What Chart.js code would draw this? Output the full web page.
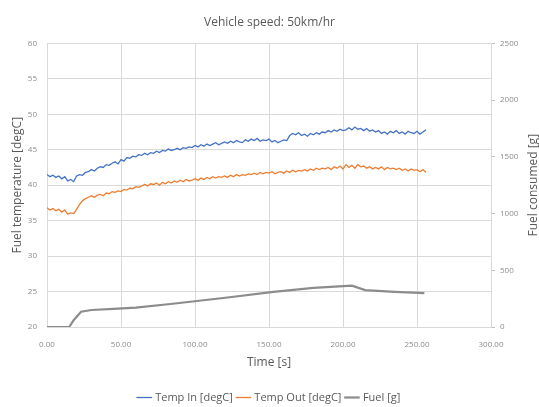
<!DOCTYPE html>
<html>
<head>
<meta charset="utf-8">
<script src="https://cdn.jsdelivr.net/npm/chart.js@4.4.0/dist/chart.umd.min.js"></script>
<style>
  html, body { margin: 0; padding: 0; background: #fff; }
  #wrap { width: 539px; height: 407px; }
</style>
</head>
<body>
<div id="wrap"><canvas id="myLineChart" width="539" height="407"></canvas></div>
<script>
// sampling every 2 s, from 0 to 256 s
const sampleStep = 2;

const tempIn = [
  41.5, 41.2, 41.4, 41.1, 41.3, 40.9, 41.2, 40.6, 40.8, 40.5,
  41.3, 41.5, 41.4, 41.8, 41.9, 42.2, 42.0, 42.4, 42.6, 42.5,
  42.9, 42.8, 43.1, 43.3, 43.0, 43.6, 43.4, 43.9, 43.8, 44.1,
  44.0, 44.3, 44.2, 44.5, 44.3, 44.6, 44.5, 44.8, 44.6, 44.9,
  44.8, 45.1, 44.9, 45.0, 45.2, 45.0, 45.3, 45.2, 45.4, 45.3,
  45.6, 45.4, 45.7, 45.5, 45.8, 45.6, 45.8, 46.0, 45.7, 45.9,
  46.1, 45.9, 46.2, 46.0, 46.3, 46.1, 46.0, 46.4, 46.2, 46.5,
  46.3, 46.6, 46.2, 46.4, 46.3, 46.5, 46.1, 46.3, 46.0, 46.2,
  46.4, 46.3, 47.0, 47.3, 47.1, 47.4, 47.0, 47.2, 46.9, 47.3,
  47.1, 47.4, 47.2, 47.5, 47.4, 47.7, 47.5, 47.8, 47.6, 47.9,
  47.7, 47.8, 48.1, 47.8, 48.2, 47.9, 48.0, 47.7, 48.0, 47.6,
  47.8, 47.5, 47.7, 47.3, 47.5, 47.2, 47.6, 47.4, 47.7, 47.3,
  47.5, 47.2, 47.6, 47.4, 47.3, 47.6, 47.2, 47.5, 47.8
];

const tempOut = [
  36.8, 36.5, 36.7, 36.4, 36.6, 36.2, 36.5, 35.9, 36.1, 36.0,
  36.6, 37.3, 37.8, 38.1, 38.3, 38.5, 38.3, 38.6, 38.7, 38.5,
  38.9, 38.8, 39.1, 39.0, 39.2, 39.1, 39.4, 39.3, 39.6, 39.5,
  39.8, 39.7, 39.9, 40.1, 39.9, 40.2, 40.1, 40.3, 40.0, 40.4,
  40.2, 40.5, 40.3, 40.6, 40.4, 40.7, 40.5, 40.8, 40.6, 40.7,
  40.9, 40.7, 41.0, 40.8, 41.1, 40.9, 41.2, 41.0, 41.2, 41.1,
  41.3, 41.1, 41.4, 41.2, 41.5, 41.3, 41.5, 41.4, 41.6, 41.5,
  41.7, 41.5, 41.8, 41.6, 41.8, 41.7, 41.9, 41.6, 41.8, 41.9,
  41.7, 42.0, 41.8, 42.1, 41.9, 42.1, 42.0, 42.2, 42.0, 42.3,
  42.1, 42.4, 42.2, 42.4, 42.3, 42.5, 42.2, 42.6, 42.4, 42.7,
  42.3, 42.9, 42.5, 42.8, 42.4, 42.9, 42.6, 42.7, 42.4, 42.6,
  42.3, 42.5, 42.3, 42.6, 42.2, 42.5, 42.3, 42.4, 42.2, 42.4,
  42.1, 42.3, 42.0, 42.3, 42.1, 42.2, 41.9, 42.2, 41.8
];

// fuel is a smooth curve, read at a few breakpoints
const fuelTime = [0, 15, 18, 23, 30, 45, 60, 85, 122, 153, 180, 206, 215, 235, 255];
const fuelGrams = [0, 0, 60, 135, 150, 160, 170, 205, 260, 310, 345, 365, 325, 310, 298];

const xTicks = [0, 50, 100, 150, 200, 250, 300];

const textGrey = '#595959';
const tickGrey = '#8c8c8c';
const gridGrey = '#d9d9d9';
const fontName = 'Open Sans';

function toPoints(values) {
    return values.map((v, i) => ({ x: i * sampleStep, y: v }));
}

// right axis title reads bottom-to-top like the left one
const rightTitle = {
    id: 'rightTitle',
    afterDraw(chart) {
        const c = chart.ctx;
        const area = chart.chartArea;
        c.save();
        c.translate(534, (area.top + area.bottom) / 2);
        c.rotate(-Math.PI / 2);
        c.fillStyle = textGrey;
        c.font = '12px "' + fontName + '"';
        c.textAlign = 'center';
        c.textBaseline = 'middle';
        c.fillText('Fuel consumed [g]', 0, 0);
        c.restore();
    }
};

const ctx = document.getElementById('myLineChart').getContext('2d');

const chart = new Chart(ctx, {
    type: 'line',
    data: {
        datasets: [{
            label: 'Temp In [degC]',
            data: toPoints(tempIn),
            borderColor: '#4472C4',
            borderWidth: 1.3,
            yAxisID: 'y',
            fill: false
        }, {
            label: 'Temp Out [degC]',
            data: toPoints(tempOut),
            borderColor: '#ED7D31',
            borderWidth: 1.3,
            yAxisID: 'y',
            fill: false
        }, {
            label: 'Fuel [g]',
            data: fuelTime.map((t, i) => ({ x: t, y: fuelGrams[i] })),
            borderColor: '#8c8c8c',
            borderWidth: 2.2,
            yAxisID: 'y1',
            fill: false
        }]
    },
    plugins: [rightTitle],
    options: {
        responsive: false,
        animation: false,
        elements: { point: { radius: 0 }, line: { tension: 0 } },
        layout: { padding: { left: 0, right: 0, top: 4, bottom: -6 } },
        plugins: {
            title: {
                display: true,
                text: 'Vehicle speed: 50km/hr',
                color: textGrey,
                font: { family: fontName, size: 12, weight: 'normal' },
                padding: { top: 11, bottom: 14 }
            },
            legend: {
                position: 'bottom',
                labels: {
                    color: textGrey,
                    font: { family: fontName, size: 11 },
                    usePointStyle: true,
                    pointStyle: 'line',
                    boxWidth: 18,
                    padding: 5
                }
            },
            tooltip: { enabled: false }
        },
        scales: {
            x: {
                type: 'linear',
                min: 0,
                max: 300,
                afterBuildTicks: axis => { axis.ticks = xTicks.map(v => ({ value: v })); },
                afterFit: axis => { axis.height = 60; },
                ticks: {
                    color: tickGrey,
                    font: { family: fontName, size: 8 },
                    padding: 13,
                    maxRotation: 0,
                    callback: v => v.toFixed(2)
                },
                grid: { color: gridGrey, drawTicks: false },
                border: { color: gridGrey },
                title: {
                    display: true,
                    text: 'Time [s]',
                    color: textGrey,
                    font: { family: fontName, size: 12 },
                    padding: { top: 4, bottom: 17 }
                }
            },
            y: {
                position: 'left',
                min: 20,
                max: 60,
                afterFit: axis => { axis.width = 47; },
                ticks: {
                    stepSize: 5,
                    color: tickGrey,
                    font: { family: fontName, size: 8 },
                    padding: 10
                },
                grid: { color: gridGrey, drawTicks: false },
                border: { color: gridGrey },
                title: {
                    display: true,
                    text: 'Fuel temperature [degC]',
                    color: textGrey,
                    font: { family: fontName, size: 12 },
                    padding: { top: 10, bottom: 0 }
                }
            },
            y1: {
                position: 'right',
                min: 0,
                max: 2500,
                afterFit: axis => { axis.width = 48; },
                ticks: {
                    stepSize: 500,
                    color: tickGrey,
                    font: { family: fontName, size: 8 },
                    padding: 5,
                    callback: v => String(v)
                },
                grid: { drawOnChartArea: false, color: '#bfbfbf', tickLength: 4 },
                border: { color: gridGrey }
            }
        }
    }
});
</script>
</body>
</html>
